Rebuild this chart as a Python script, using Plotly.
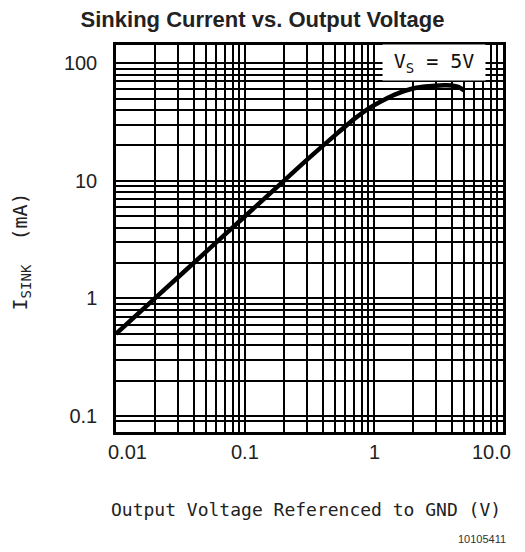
import math
import plotly.graph_objects as go

# ---- data ----
v_out = [0.01, 0.02, 0.05, 0.1, 0.2, 0.3, 0.5, 0.7, 0.9, 1.2, 1.5, 2.0, 2.5, 3.0, 3.5, 4.0, 4.5, 5.0]
i_sink = [0.5, 1.0, 2.5, 5.0, 10.0, 15.0, 24.5, 33.5, 41.0, 49.0, 55.0, 61.0, 63.5, 64.5, 65.0, 64.8, 63.0, 59.0]

x_tick_vals = [0.01, 0.1, 1, 10]
x_tick_text = ["0.01", "0.1", "1", "10.0"]
y_tick_vals = [0.1, 1, 10, 100]
y_tick_text = ["0.1", "1", "10", "100"]

x_minor = [m * d for d in (0.01, 0.1, 1) for m in range(2, 10)]
y_minor = [0.09] + [m * d for d in (0.1, 1, 10) for m in range(2, 10)]

title_text = "Sinking Current vs. Output Voltage"
x_title = "Output Voltage Referenced to GND (V)"
y_title = "I<sub>SINK</sub>  (mA)"
label_text = "V<sub>S</sub> = 5V"
fig_id = "10105411"

# the page body has an 8 px margin, so the figure is sized to fit the window
W, H = 517, 544

fig = go.Figure()
fig.add_trace(go.Scatter(
    x=v_out, y=i_sink, mode="lines",
    line=dict(color="black", width=4.5, shape="spline", smoothing=0.6),
    hoverinfo="skip", showlegend=False,
))

grid = dict(showgrid=True, gridcolor="black", gridwidth=1.5)
fig.update_xaxes(
    type="log", range=[-2, 1],
    tickvals=x_tick_vals, showticklabels=False, ticks="",
    showline=True, linecolor="black", linewidth=2.5, mirror=True,
    zeroline=False,
    minor=dict(tickvals=x_minor, ticks="", **grid),
    **grid,
)
fig.update_yaxes(
    type="log", range=[math.log10(0.0731), math.log10(143)],
    tickvals=y_tick_vals, ticktext=y_tick_text, ticks="",
    ticklabelstandoff=12,
    tickfont=dict(family="Liberation Sans", size=20, color="#222"),
    showline=True, linecolor="black", linewidth=2.5, mirror=True,
    zeroline=False,
    minor=dict(tickvals=y_minor, ticks="", **grid),
    **grid,
)

annotations = []
x_shifts = [11, 0, 0, -12]
for v, t, s in zip(x_tick_vals, x_tick_text, x_shifts):
    annotations.append(dict(
        x=math.log10(v), xref="x", y=-0.052, yref="paper",
        text=t, showarrow=False, xanchor="center", yanchor="middle", xshift=s,
        font=dict(family="Liberation Sans", size=20, color="#222"),
    ))
annotations.append(dict(
    x=0.492, xref="paper", y=-0.201, yref="paper", text=x_title,
    showarrow=False, xanchor="center", yanchor="middle",
    font=dict(family="DejaVu Sans Mono", size=18, color="#222"),
))
annotations.append(dict(
    x=-0.245, xref="paper", y=0.467, yref="paper", text=y_title,
    textangle=-90, showarrow=False, xanchor="center", yanchor="middle",
    font=dict(family="DejaVu Sans Mono", size=20, color="#222"),
))
annotations.append(dict(
    x=0.822, xref="paper", y=0.954, yref="paper", text=label_text,
    showarrow=False, xanchor="center", yanchor="middle",
    width=102, height=35, bgcolor="white", borderpad=0,
    font=dict(family="DejaVu Sans Mono", size=20, color="#111"),
))
annotations.append(dict(
    x=1.013, xref="paper", y=-0.276, yref="paper", text=fig_id,
    showarrow=False, xanchor="right", yanchor="middle",
    font=dict(family="Liberation Sans", size=11, color="#333"),
))

fig.update_layout(
    width=W, height=H,
    margin=dict(l=108, r=22, t=37, b=120),
    paper_bgcolor="white", plot_bgcolor="white",
    title=dict(text="<b>" + title_text + "</b>", x=(262.5 - 8) / W, xanchor="center",
               y=1 - 11 / H, yanchor="middle", yref="container",
               font=dict(family="Liberation Sans", size=22, color="#222")),
    annotations=annotations,
    showlegend=False,
)

fig.write_html("out.html")
